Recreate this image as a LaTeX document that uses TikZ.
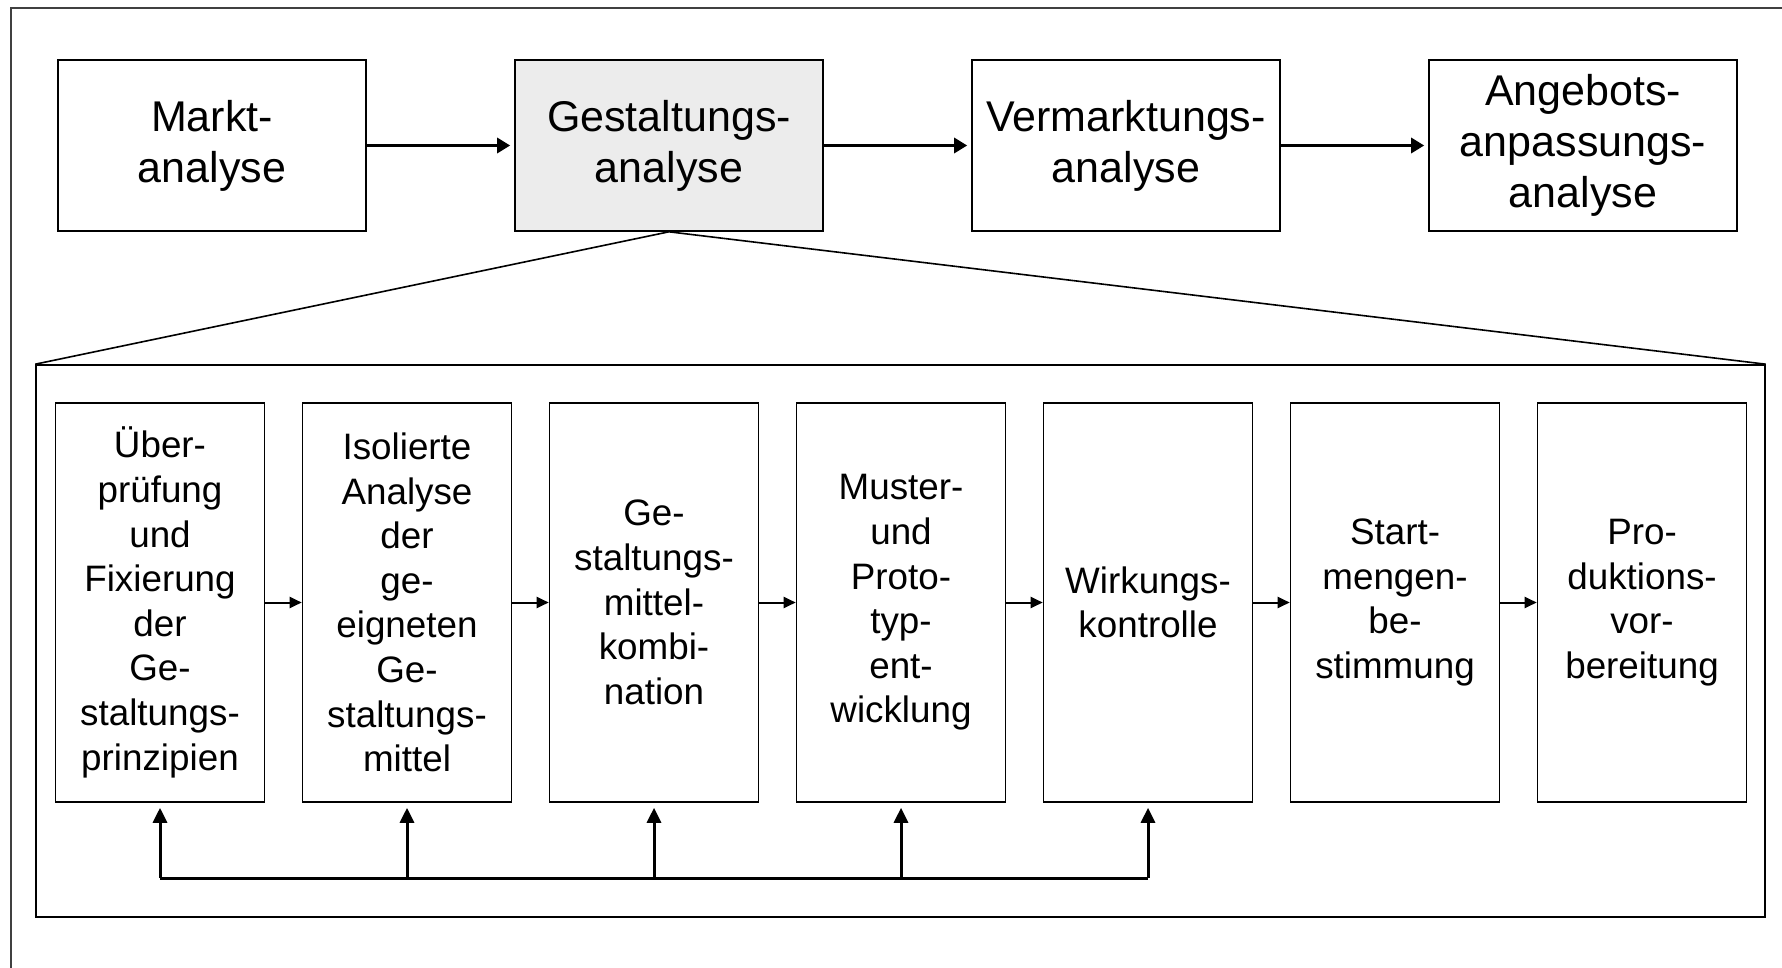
\documentclass[tikz,border=0pt]{standalone}
\usepackage{fontspec}
\setmainfont{Liberation Sans}
\usetikzlibrary{positioning, arrows.meta}

\begin{document}
\begin{tikzpicture}[
        x=0.5pt, y=-0.5pt,
        >={Triangle[length=6.5pt,width=7.5pt]},
        node distance=228.5pt,
        on grid,
        phase/.style={draw, line width=0.8pt, minimum width=154pt, minimum height=85.5pt,
            align=center, inner sep=0pt, font=\fontsize{21.5}{25.5}\selectfont},
        schritt/.style={draw, line width=0.8pt, minimum width=104.5pt, minimum height=199.5pt,
            align=center, inner sep=0pt, font=\fontsize{18.4}{22.3}\selectfont},
        pfeil/.style={->, line width=1.5pt, shorten >=2pt},
        kpfeil/.style={-{Triangle[length=6pt,width=5.5pt]}, line width=1pt},
        rpfeil/.style={-{Triangle[length=7.5pt,width=7pt]}, line width=1.5pt, shorten >=2.5pt}
    ]

        \useasboundingbox (0,0) rectangle (1782,968);

        % Frame
        \draw[line width=0.8pt, black!75] (11,968) -- (11,8) -- (1782,8);

        % Phases
        \node[phase] (markt) at (212,145.5) {Markt-\\analyse};
        \node[phase, fill=gray!15, right=of markt] (gestalt) {Gestaltungs-\\analyse};
        \node[phase, right=of gestalt] (verm) {Vermarktungs-\\analyse};
        \node[phase, right=of verm] (angebot) {Angebots-\\anpassungs-\\analyse};

        \path[pfeil]
            (markt) edge (gestalt)
            (gestalt) edge (verm)
            (verm) edge (angebot);

        % Detail of Gestaltungsanalyse
        \node[draw, line width=0.8pt, minimum width=864.5pt, minimum height=276pt] (detail) at (900.5,641) {};
        \draw[line width=0.8pt] (detail.north west) -- (gestalt.south) -- (detail.north east);

        \begin{scope}[node distance=123.5pt]
        \node[schritt] (s1) at (160,602.5) {Über-\\prüfung\\und\\Fixierung\\der\\Ge-\\staltungs-\\prinzipien};
        \node[schritt, right=of s1] (s2) {Isolierte\\Analyse\\der\\ge-\\eigneten\\Ge-\\staltungs-\\mittel};
        \node[schritt, right=of s2] (s3) {Ge-\\staltungs-\\mittel-\\kombi-\\nation};
        \node[schritt, right=of s3] (s4) {Muster-\\und\\Proto-\\typ-\\ent-\\wicklung};
        \node[schritt, right=of s4] (s5) {Wirkungs-\\kontrolle};
        \node[schritt, right=of s5] (s6) {Start-\\mengen-\\be-\\stimmung};
        \node[schritt, right=of s6] (s7) {Pro-\\duktions-\\vor-\\bereitung};
        \end{scope}

        \path[kpfeil]
            (s1) edge (s2)
            (s2) edge (s3)
            (s3) edge (s4)
            (s4) edge (s5)
            (s5) edge (s6)
            (s6) edge (s7);

        % Feedback
        \coordinate (fb) at (160,878);
        \draw[line width=1.5pt] (s1.south |- fb) -- (s5.south |- fb);
        \foreach \s in {s1,s2,s3,s4,s5}
            \draw[rpfeil] (\s.south |- fb) -- (\s.south);

    \end{tikzpicture}
\end{document}
